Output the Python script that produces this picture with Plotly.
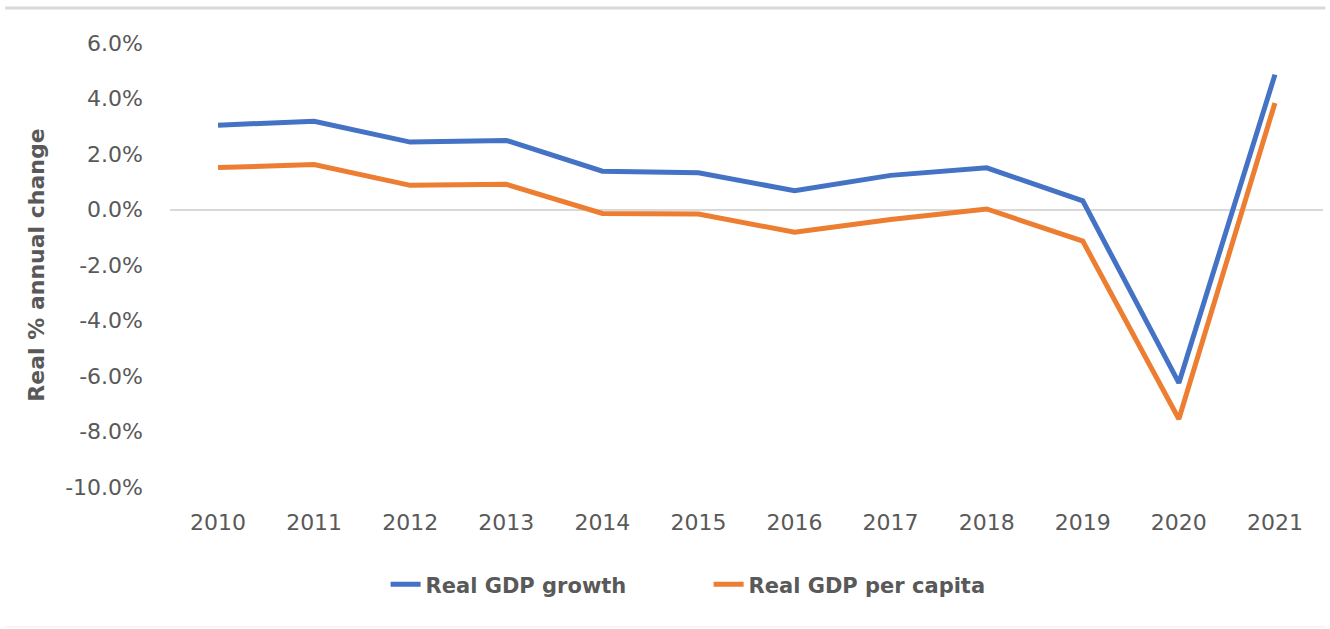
import plotly.graph_objects as go

# Annual real GDP change, per cent
years = ["2010", "2011", "2012", "2013", "2014", "2015", "2016", "2017",
         "2018", "2019", "2020", "2021"]
gdp_growth = [3.04, 3.18, 2.43, 2.49, 1.38, 1.32, 0.68, 1.23, 1.50, 0.31, -6.25, 4.86]
gdp_per_capita = [1.51, 1.62, 0.87, 0.91, -0.14, -0.16, -0.82, -0.36, 0.02, -1.14, -7.55, 3.84]

y_ticks = [6, 4, 2, 0, -2, -4, -6, -8, -10]

BLUE = "#4472C4"
ORANGE = "#ED7D31"
TEXT = "#595959"
GRID = "#D9D9D9"
FONT = "DejaVu Sans"

fig = go.Figure()
fig.add_trace(go.Scatter(
    x=years, y=gdp_growth, mode="lines", name="Real GDP growth",
    line=dict(color=BLUE, width=5),
))
fig.add_trace(go.Scatter(
    x=years, y=gdp_per_capita, mode="lines", name="Real GDP per capita",
    line=dict(color=ORANGE, width=5),
))

fig.update_layout(
    width=1330, height=629,
    margin=dict(l=170, r=7, t=43, b=142),
    paper_bgcolor="white", plot_bgcolor="white",
    font=dict(family=FONT, color=TEXT, size=22),
    showlegend=True,
    legend=dict(
        orientation="h", x=0.187, y=-0.22, xanchor="left", yanchor="middle",
        font=dict(family=FONT, size=21, color=TEXT, weight="bold"),
        entrywidth=278, entrywidthmode="pixels",
        bgcolor="rgba(0,0,0,0)",
    ),
    xaxis=dict(
        type="category", range=[-0.5, 11.5],
        showgrid=False, showline=False, ticks="", zeroline=False,
        tickfont=dict(family=FONT, size=22, color=TEXT),
        ticklabelstandoff=20,
    ),
    yaxis=dict(
        range=[-10, 6], tickvals=y_ticks,
        ticktext=[f"{v:.1f}%" for v in y_ticks],
        showgrid=False, showline=False, ticks="",
        zeroline=True, zerolinecolor=GRID, zerolinewidth=2,
        tickfont=dict(family=FONT, size=22, color=TEXT),
        ticklabelstandoff=26,
        title=dict(text="Real % annual change",
                   font=dict(family=FONT, size=22, color=TEXT, weight="bold"),
                   standoff=14),
    ),
    shapes=[
        # chart frame edges
        dict(type="line", xref="paper", yref="paper",
             x0=-0.143, x1=1.002, y0=1.079, y1=1.079,
             line=dict(color=GRID, width=3)),
        dict(type="line", xref="paper", yref="paper",
             x0=-0.143, x1=1.002, y0=-0.315, y1=-0.315,
             line=dict(color="#EEEEEE", width=1)),
    ],
)

fig.write_html("out.html")
